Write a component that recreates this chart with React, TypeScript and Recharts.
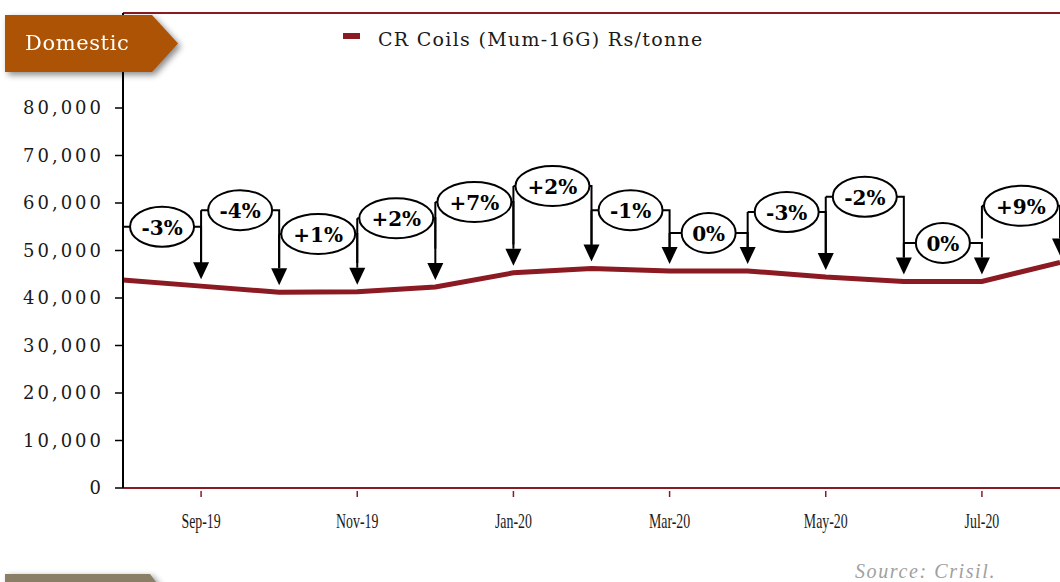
import React from "react";
import {
  LineChart,
  Line,
  XAxis,
  YAxis,
  ReferenceLine,
} from "recharts";

// CR Coils (Mum-16G) monthly price, Rs/tonne
const MONTHS = [
  "Aug-19", "Sep-19", "Oct-19", "Nov-19", "Dec-19", "Jan-20", "Feb-20",
  "Mar-20", "Apr-20", "May-20", "Jun-20", "Jul-20", "Aug-20",
];
const PRICES = [
  43800, 42500, 41200, 41300, 42300, 45300, 46200,
  45700, 45700, 44400, 43500, 43500, 47500,
];
// month-on-month change callouts, and the height (in Rs/tonne) of each bracket
const CHANGES = ["-3%", "-4%", "+1%", "+2%", "+7%", "+2%", "-1%", "0%", "-3%", "-2%", "0%", "+9%"];
const CALLOUT_LEVELS = [55000, 58500, 53500, 56800, 60200, 63600, 58500, 53700, 58100, 61300, 51600, 59400];

const LABELED_MONTHS = ["Sep-19", "Nov-19", "Jan-20", "Mar-20", "May-20", "Jul-20"];
const Y_TICKS = [0, 10000, 20000, 30000, 40000, 50000, 60000, 70000, 80000, 90000];
const Y_MAX = 100000;

const data = MONTHS.map((m, i) => ({ month: m, price: PRICES[i] }));

const RED = "#8B1A22";
const SERIF = "'DejaVu Serif', 'Liberation Serif', serif";

const XTick = (props: any) => {
  const { x, y, payload } = props;
  if (!LABELED_MONTHS.includes(payload.value)) return null;
  return (
    <g>
      <line x1={x} x2={x} y1={y - 5} y2={y + 1} stroke={RED} strokeWidth={1.5} />
      {/* condensed serif look */}
      <text
        transform={`translate(${x},${y + 32}) scale(0.66,1)`}
        textAnchor="middle"
        fontFamily="'Liberation Serif', serif"
        fontSize={21}
        fill="#1a1a1a"
      >
        {payload.value}
      </text>
    </g>
  );
};

// bracket: horizontal at the callout level, ellipse label in the middle, arrow down to the line
const makeCallout = (i: number) => (p: any) => {
  const { x1, y1, x2, y2 } = p;
  const label = CHANGES[i];
  const tipY = y2 - 7;
  const headTop = tipY - 17;
  const rx = label.startsWith("+") ? 37 : label.startsWith("-") ? 32 : 27;
  const cx = (x1 + x2) / 2;
  return (
    <g>
      <path
        d={`M${x1},${y1} H${x2} V${headTop}` + (i > 0 ? ` M${x1},${y1} V${headTop}` : "")}
        stroke="#000"
        strokeWidth={2}
        fill="none"
      />
      <polygon points={`${x2 - 8},${headTop} ${x2 + 8},${headTop} ${x2},${tipY}`} fill="#000" />
      <ellipse cx={cx} cy={y1} rx={rx} ry={20} fill="#fff" stroke="#000" strokeWidth={2} />
      <text
        x={cx}
        y={y1 + 1}
        textAnchor="middle"
        dominantBaseline="central"
        fontFamily={SERIF}
        fontWeight="bold"
        fontSize={20}
        fill="#000"
      >
        {label}
      </text>
    </g>
  );
};

export default function App() {
  return (
    <div
      style={{
        position: "absolute",
        left: 0,
        top: 0,
        width: 1060,
        height: 582,
        background: "#fff",
        overflow: "hidden",
      }}
    >
      <LineChart
        width={1062}
        height={582}
        data={data}
        margin={{ top: 13, right: 2, left: 0, bottom: 54 }}
      >
        <XAxis
          dataKey="month"
          height={40}
          interval={0}
          padding={{ left: 0, right: 0 }}
          axisLine={{ stroke: RED, strokeWidth: 2 }}
          tickLine={false}
          tick={<XTick />}
        />
        <YAxis
          width={123}
          domain={[0, Y_MAX]}
          ticks={Y_TICKS}
          interval={0}
          tickSize={8}
          tickMargin={11}
          tickFormatter={(v: number) => v.toLocaleString("en-US")}
          axisLine={{ stroke: "#000", strokeWidth: 2 }}
          tickLine={{ stroke: "#000", strokeWidth: 1.5 }}
          tick={{ fontFamily: SERIF, fontSize: 18, fill: "#1a1a1a", letterSpacing: 3 }}
        />
        <YAxis
          yAxisId="right"
          orientation="right"
          width={0}
          domain={[0, Y_MAX]}
          tick={false}
          tickLine={false}
          axisLine={{ stroke: RED, strokeWidth: 2 }}
        />
        {/* top edge of the frame */}
        <ReferenceLine y={Y_MAX} stroke={RED} strokeWidth={2} ifOverflow="visible" />
        <Line
          type="linear"
          dataKey="price"
          stroke={RED}
          strokeWidth={5}
          dot={false}
          activeDot={false}
          isAnimationActive={false}
        />
        {CHANGES.map((_, i) => (
          <ReferenceLine
            key={i}
            ifOverflow="visible"
            segment={[
              { x: MONTHS[i], y: CALLOUT_LEVELS[i] },
              { x: MONTHS[i + 1], y: PRICES[i + 1] },
            ]}
            shape={makeCallout(i)}
          />
        ))}
      </LineChart>

      {/* legend */}
      <div style={{ position: "absolute", left: 343, top: 33, width: 17, height: 6, background: RED }} />
      <div
        style={{
          position: "absolute",
          left: 378,
          top: 28,
          fontFamily: SERIF,
          fontSize: 19,
          letterSpacing: 1.3,
          color: "#1a1a1a",
          whiteSpace: "nowrap",
          lineHeight: "22px",
        }}
      >
        CR Coils (Mum-16G) Rs/tonne
      </div>

      {/* section tab */}
      <div style={{ position: "absolute", left: 5, top: 15, filter: "drop-shadow(3px 3px 3px rgba(0,0,0,0.45))" }}>
        <div
          style={{
            width: 173,
            height: 57,
            background: "#AD5305",
            clipPath: "polygon(0 0, 147px 0, 173px 50%, 147px 100%, 0 100%)",
            color: "#fff",
            fontFamily: SERIF,
            fontSize: 21,
            letterSpacing: 0.6,
            lineHeight: "57px",
            paddingLeft: 20,
            boxSizing: "border-box",
          }}
        >
          Domestic
        </div>
      </div>

      {/* footer tab */}
      <div style={{ position: "absolute", left: 5, top: 574, filter: "drop-shadow(3px 2px 3px rgba(0,0,0,0.4))" }}>
        <div
          style={{
            width: 160,
            height: 20,
            background: "#8A7F66",
            clipPath: "polygon(0 0, 145px 0, 160px 100%, 0 100%)",
          }}
        />
      </div>

      <div
        style={{
          position: "absolute",
          left: 855,
          top: 560,
          fontFamily: "'Liberation Serif', serif",
          fontStyle: "italic",
          fontSize: 20,
          letterSpacing: 1.6,
          color: "#a0a0a0",
          whiteSpace: "nowrap",
        }}
      >
        Source: Crisil.
      </div>
    </div>
  );
}
